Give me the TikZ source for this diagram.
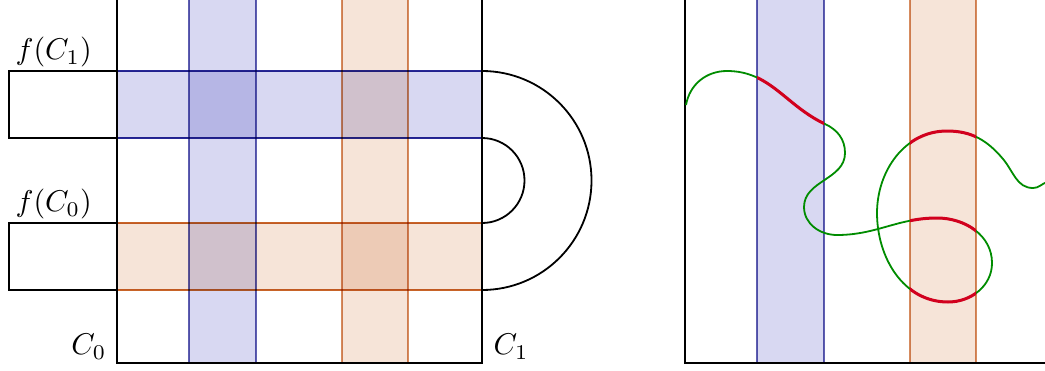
\documentclass[tikz,border=0pt]{standalone}
\usetikzlibrary{positioning}

\definecolor{bandblue}{RGB}{216,216,242}
\definecolor{lineblue}{RGB}{40,40,150}
\definecolor{bandorange}{RGB}{246,228,216}
\definecolor{lineorange}{RGB}{200,100,40}
\definecolor{pathgreen}{RGB}{0,140,0}
\definecolor{pathred}{RGB}{210,0,30}

\newcommand\wiggle{(1,258) to[out=80, in=180] (42,292)
  to[out=0, in=155] (140,239) to[out=-25, in=90] (160,210)
  to[out=-90, in=90] (119,156) to[out=-90, in=180] (152,128)
  to[out=0, in=180] (252,145) to[out=0, in=90] (307,100)
  to[out=-90, in=0] (263,61) to[out=180, in=-90] (192,150)
  to[out=90, in=180] (262,232) to[out=0, in=130] (318,204)
  to[out=-50, in=180] (348,175) to[out=0, in=200] (362,181)}

\begin{document}
\begin{tikzpicture}[
        x=0.3333pt, y=0.3333pt,
        every node/.style={inner sep=1pt},
        frame/.style={draw=black, semithick},
        blueband/.style={fill=bandblue, draw=lineblue, semithick},
        orangeband/.style={fill=bandorange, draw=lineorange, semithick},
        vband/.style={draw opacity=0.75},
        curve/.style={draw=pathgreen, semithick},
        hit/.style={draw=pathred, line width=1pt}
        ]

        \useasboundingbox (-117,-7) rectangle (928,363);
        \clip (-117,-7) rectangle (928,363);

        % Left square: vertical and horizontal bands
        \begin{scope}[blend mode=multiply]
            \draw[blueband, vband] (72,0) rectangle (139,380);
            \draw[orangeband, vband] (225,0) rectangle (291,380);
            \draw[blueband] (0,225) rectangle (365,292);
            \draw[orangeband] (0,73) rectangle (365,140);
        \end{scope}

        % Tabs, frame and gluing arcs
        \draw[frame] (-108,225) rectangle (0,292);
        \draw[frame] (-108,73) rectangle (0,140);
        \draw[frame] (0,380) -- (0,0) -- (365,0) -- (365,380);
        \draw[frame] (365,292) arc[start angle=90, end angle=-90, radius=109.5];
        \draw[frame] (365,225) arc[start angle=90, end angle=-90, radius=42.5];

        % Labels
        \node[anchor=south west] (fC1) at (-105,292) {$f(C_1)$};
        \node[anchor=south west] (fC0) at (-105,140) {$f(C_0)$};
        \node[anchor=south east] (C0) at (-7,0) {$C_0$};
        \node[anchor=south west] (C1) at (373,0) {$C_1$};

        % Right square with the curve
        \begin{scope}[shift={(568,0)}]
            \begin{scope}[blend mode=multiply]
                \draw[blueband, vband] (72,0) rectangle (139,380);
                \draw[orangeband, vband] (225,0) rectangle (291,380);
            \end{scope}
            \draw[frame] (0,380) -- (0,0) -- (380,0);
            \draw[curve] \wiggle;
            % only the full crossings of a band
            \begin{scope}
                \clip (72,215) rectangle (139,380) (225,0) rectangle (291,380);
                \draw[hit] \wiggle;
            \end{scope}
        \end{scope}

    \end{tikzpicture}
\end{document}
